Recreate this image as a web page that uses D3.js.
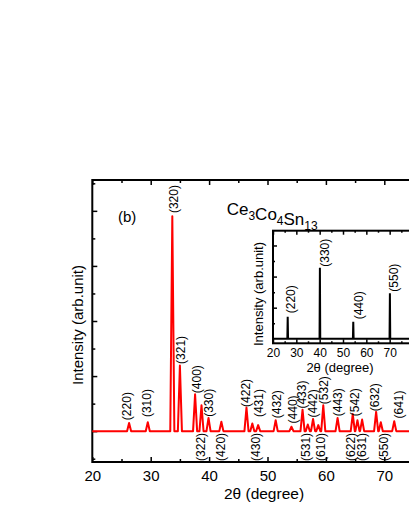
<!DOCTYPE html>
<html>
<head>
<meta charset="utf-8">
<script src="https://cdn.jsdelivr.net/npm/d3@7"></script>
<style>
    body { margin: 0; background: #fff; }
    svg { display: block; font-family: Arial, 'Liberation Sans', sans-serif; }
</style>
</head>
<body>
<svg id="chart" width="409" height="529"></svg>
<script>
// main pattern (red): peak positions in 2theta and heights (arb. units, baseline = 0)
var peakPos    = [ 26.3, 29.5, 33.7, 35.0, 37.6, 38.7, 39.9, 42.1, 46.4, 47.4, 48.4, 51.4, 54.1, 56.0, 56.9, 57.8, 58.7, 59.55, 62.0, 64.6, 65.4, 66.2, 68.6, 69.4, 71.7 ];
var peakHeight = [ 0.15, 0.16, 3.9, 1.19, 0.67, 0.47, 0.24, 0.17, 0.43, 0.14, 0.11, 0.2, 0.08, 0.39, 0.12, 0.22, 0.11, 0.47, 0.24, 0.31, 0.2, 0.21, 0.35, 0.16, 0.18 ];

// hkl labels above the pattern
var upperHkl   = [ '(220)', '(310)', '(320)', '(321)', '(400)', '(330)', '(422)', '(431)', '(432)', '(440)', '(433)', '(442)', '(532)', '(443)', '(542)', '(632)', '(641)' ];
var upperPos   = [ 25.94, 29.3, 33.87, 35.1, 37.87, 40.0, 46.26, 48.5, 51.57, 54.25, 55.85, 57.84, 59.67, 62.12, 64.93, 68.45, 72.5 ];
var upperLevel = [ 0.2, 0.255, 3.96, 1.22, 0.69, 0.26, 0.44, 0.255, 0.236, 0.14, 0.41, 0.25, 0.49, 0.27, 0.27, 0.36, 0.23 ];

// hkl labels below the baseline
var lowerHkl   = [ '(322)', '(420)', '(430)', '(531)', '(610)', '(622)', '(631)', '(550)' ];
var lowerPos   = [ 38.5, 41.98, 47.97, 56.54, 59.1, 64.24, 66.2, 69.9 ];
var lowerLevel = -0.54;

// inset (black): oriented (hh0) reflections
var insetPos        = [ 26.3, 40.1, 54.4, 70.1 ];
var insetHeight     = [ 1.42, 4.57, 1.1, 2.92 ];
var insetHkl        = [ '(220)', '(330)', '(440)', '(550)' ];
var insetLabelPos   = [ 27.7, 42.1, 56.6, 71.9 ];
var insetLabelLevel = [ 1.64, 4.63, 1.25, 3.03 ];

// ticks (80 lies past the right edge of the picture)
var xMajor      = [ 20, 30, 40, 50, 60, 70 ];
var xMinor      = [ 25, 35, 45, 55, 65, 75 ];
var yMajor      = [ 0, 1, 2, 3, 4 ];
var yMinor      = [ -0.5, 0.5, 1.5, 2.5, 3.5, 4.5 ];
var insetYMajor = [ 2, 4, 6 ];
var insetYMinor = [ 1, 3, 5 ];

(function(){
    'use strict';

    var svg = d3.select( '#chart' );

    function peakLine( pos, height, halfWidth, xMin, xMax ){
        var pts = [ [ xMin, 0 ] ];
        pos.forEach(function( p, i ){
            pts.push( [ p - halfWidth, 0 ], [ p, height[i] ], [ p + halfWidth, 0 ] );
        });
        pts.push( [ xMax, 0 ] );
        return pts;
    }

    function cleanAxis( g, width ){
        g.select( '.domain' ).remove();
        g.selectAll( '.tick line' ).attr( 'stroke', '#000' ).attr( 'stroke-width', width );
    }

    // box: left, top, width, height ; t: tick sizes, label font, padding, strokes
    function frame( g, box, x, y, t ){
        var bottom = box.top + box.height,
            right = box.left + box.width;

        g.append( 'rect' )
            .attr( 'x', box.left )
            .attr( 'y', box.top )
            .attr( 'width', box.width )
            .attr( 'height', box.height )
            .attr( 'fill', '#fff' );

        var gb = g.append( 'g' ).attr( 'transform', 'translate(0,' + bottom + ')' )
            .call( d3.axisBottom( x ).tickValues( xMajor ).tickSize( -t.major ).tickPadding( t.pad ).tickFormat( d3.format( 'd' ) ) );
        gb.selectAll( 'text' ).attr( 'font-size', t.font ).attr( 'font-family', null ).attr( 'fill', '#000' );
        cleanAxis( gb, t.stroke );
        cleanAxis( g.append( 'g' ).attr( 'transform', 'translate(0,' + bottom + ')' )
            .call( d3.axisBottom( x ).tickValues( xMinor ).tickSize( -t.minor ).tickFormat( '' ) ), t.stroke );

        cleanAxis( g.append( 'g' ).attr( 'transform', 'translate(0,' + box.top + ')' )
            .call( d3.axisTop( x ).tickValues( xMajor ).tickSize( -t.major ).tickFormat( '' ) ), t.stroke );
        cleanAxis( g.append( 'g' ).attr( 'transform', 'translate(0,' + box.top + ')' )
            .call( d3.axisTop( x ).tickValues( xMinor ).tickSize( -t.minor ).tickFormat( '' ) ), t.stroke );

        cleanAxis( g.append( 'g' ).attr( 'transform', 'translate(' + box.left + ',0)' )
            .call( d3.axisLeft( y ).tickValues( t.yMajor ).tickSize( -t.major ).tickFormat( '' ) ), t.stroke );
        cleanAxis( g.append( 'g' ).attr( 'transform', 'translate(' + box.left + ',0)' )
            .call( d3.axisLeft( y ).tickValues( t.yMinor ).tickSize( -t.minor ).tickFormat( '' ) ), t.stroke );

        cleanAxis( g.append( 'g' ).attr( 'transform', 'translate(' + right + ',0)' )
            .call( d3.axisRight( y ).tickValues( t.yMajor ).tickSize( -t.major ).tickFormat( '' ) ), t.stroke );

        g.append( 'rect' )
            .attr( 'x', box.left )
            .attr( 'y', box.top )
            .attr( 'width', box.width )
            .attr( 'height', box.height )
            .attr( 'fill', 'none' )
            .attr( 'stroke', '#000' )
            .attr( 'stroke-width', t.frame );
    }

    function hklLabels( g, x, y, names, pos, level, size ){
        g.selectAll( null ).data( names ).enter().append( 'text' )
            .attr( 'transform', function( d, i ){
                var lv = Array.isArray( level ) ? level[i] : level;
                return 'translate(' + x( pos[i] ) + ',' + y( lv ) + ') rotate(-90)';
            })
            .attr( 'dy', '0.35em' )
            .attr( 'font-size', size )
            .attr( 'fill', '#000' )
            .text(function( d ){ return d; });
    }

    // ---- main chart
    var box = { left: 92.3, top: 180, width: 350.4, height: 282 };
    var x = d3.scaleLinear().domain( [ 20, 80 ] ).range( [ box.left, box.left + box.width ] ),
        y = d3.scaleLinear().domain( [ -0.56, 4.56 ] ).range( [ box.top + box.height, box.top ] );

    var main = svg.append( 'g' );
    frame( main, box, x, y, { major: 5, minor: 3, pad: 8, font: 15, stroke: 1.5, frame: 2, yMajor: yMajor, yMinor: yMinor } );

    main.append( 'path' )
        .datum( peakLine( peakPos, peakHeight, 0.35, 20, 80 ) )
        .attr( 'fill', 'none' )
        .attr( 'stroke', '#ff0000' )
        .attr( 'stroke-width', 2 )
        .attr( 'stroke-linejoin', 'round' )
        .attr( 'd', d3.line().x(function( d ){ return x( d[0] ); }).y(function( d ){ return y( d[1] ); }) );

    hklLabels( main, x, y, upperHkl, upperPos, upperLevel, 12 );
    hklLabels( main, x, y, lowerHkl, lowerPos, lowerLevel, 12 );

    main.append( 'text' )
        .attr( 'x', 118 ).attr( 'y', 222 )
        .attr( 'font-size', 15 )
        .text( '(b)' );

    var title = main.append( 'text' )
        .attr( 'x', 226.7 ).attr( 'y', 215 )
        .attr( 'font-size', 17 );
    [ [ 'Ce', '3' ], [ 'Co', '4' ], [ 'Sn', '13' ] ].forEach(function( part ){
        title.append( 'tspan' ).text( part[0] );
        title.append( 'tspan' ).attr( 'font-size', 12 ).attr( 'dy', 5 ).text( part[1] );
        title.append( 'tspan' ).attr( 'dy', -5 ).text( '' );
    });

    main.append( 'text' )
        .attr( 'x', 264 ).attr( 'y', 499 )
        .attr( 'text-anchor', 'middle' )
        .attr( 'font-size', 15.5 )
        .text( '2\u03b8 (degree)' );

    main.append( 'text' )
        .attr( 'transform', 'translate(82.5,325) rotate(-90)' )
        .attr( 'text-anchor', 'middle' )
        .attr( 'font-size', 15 )
        .text( 'Intensity (arb.unit)' );

    // ---- inset
    var ibox = { left: 273, top: 230.7, width: 140, height: 112.6 };
    var ix = d3.scaleLinear().domain( [ 20, 80 ] ).range( [ ibox.left, ibox.left + ibox.width ] ),
        iy = d3.scaleLinear().domain( [ -0.29, 6.95 ] ).range( [ ibox.top + ibox.height, ibox.top ] );

    var inset = svg.append( 'g' );
    frame( inset, ibox, ix, iy, { major: 4, minor: 2, pad: 5, font: 12, stroke: 1.5, frame: 2, yMajor: insetYMajor, yMinor: insetYMinor } );

    inset.append( 'path' )
        .datum( peakLine( insetPos, insetHeight, 0.15, 20, 80 ) )
        .attr( 'fill', 'none' )
        .attr( 'stroke', '#000' )
        .attr( 'stroke-width', 2 )
        .attr( 'd', d3.line().x(function( d ){ return ix( d[0] ); }).y(function( d ){ return iy( d[1] ); }) );

    hklLabels( inset, ix, iy, insetHkl, insetLabelPos, insetLabelLevel, 12 );

    inset.append( 'text' )
        .attr( 'x', 340 ).attr( 'y', 371.7 )
        .attr( 'text-anchor', 'middle' )
        .attr( 'font-size', 13 )
        .text( '2\u03b8 (degree)' );

    inset.append( 'text' )
        .attr( 'transform', 'translate(263,294) rotate(-90)' )
        .attr( 'text-anchor', 'middle' )
        .attr( 'font-size', 13 )
        .text( 'Intensity (arb.unit)' );
})();
</script>
</body>
</html>
